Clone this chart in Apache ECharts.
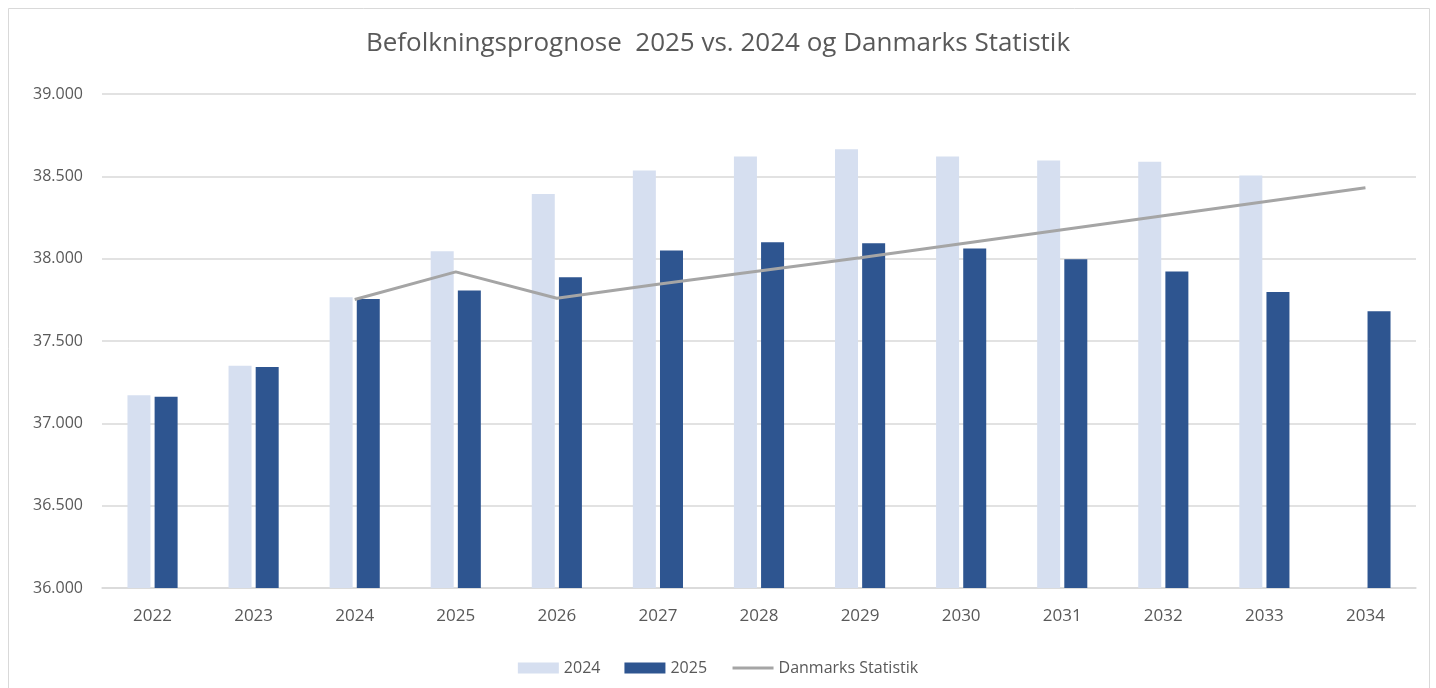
<!DOCTYPE html>
<html>
<head>
<meta charset="utf-8">
<title>Befolkningsprognose</title>
<script src="https://cdn.jsdelivr.net/npm/echarts@6/dist/echarts.min.js"></script>
<style>
    html, body { margin: 0; padding: 0; background: #fff; }
    #chart { width: 1436px; height: 688px; }
</style>
</head>
<body>
<div id="chart"></div>
<script>
var years = ['2022', '2023', '2024', '2025', '2026', '2027', '2028', '2029', '2030', '2031', '2032', '2033', '2034'];
var prognose2024 = [37170, 37350, 37765, 38045, 38392, 38535, 38620, 38665, 38620, 38596, 38588, 38505, null];
var prognose2025 = [37162, 37342, 37755, 37806, 37887, 38050, 38100, 38094, 38062, 37997, 37922, 37798, 37680];
var danmarksStatistik = [null, null, 37752, 37920, 37760, 37845, 37925, 38005, 38090, 38175, 38260, 38345, 38430];

var fontName = 'Open Sans';
var textColor = '#595959';

var chart = echarts.init(document.getElementById('chart'));

var formatThousands = function (v) {
    return String(v).replace(/\B(?=(\d{3})+(?!\d))/g, '.');
};

var option = {
    animation: false,
    backgroundColor: '#fff',
    textStyle: { fontFamily: fontName },
    title: {
        text: 'Befolkningsprognose  2025 vs. 2024 og Danmarks Statistik',
        left: 'center',
        top: 26,
        textStyle: { fontFamily: fontName, fontSize: 26, fontWeight: 'normal', color: textColor }
    },
    graphic: [{
        type: 'rect',
        shape: { x: 8.5, y: 8.5, width: 1421, height: 700 },
        style: { fill: 'none', stroke: '#d9d9d9', lineWidth: 1 },
        silent: true
    }],
    legend: {
        top: 655,
        left: 'center',
        itemWidth: 41,
        itemHeight: 11,
        itemGap: 24,
        textStyle: { fontFamily: fontName, fontSize: 16, color: textColor },
        data: [
            { name: '2024', icon: 'rect' },
            { name: '2025', icon: 'rect' },
            { name: 'Danmarks Statistik', itemStyle: { opacity: 0 }, lineStyle: { width: 3, color: '#a5a5a5' } }
        ]
    },
    grid: { left: 102, right: 20, top: 94, bottom: 100 },
    xAxis: {
        type: 'category',
        data: years,
        axisTick: { show: false },
        axisLine: { lineStyle: { color: '#d9d9d9', width: 1.5 } },
        axisLabel: { color: textColor, fontSize: 17, margin: 20 }
    },
    yAxis: {
        type: 'value',
        min: 36000,
        max: 39000,
        interval: 500,
        axisLine: { show: false },
        axisTick: { show: false },
        axisLabel: { color: textColor, fontSize: 16, margin: 19, formatter: formatThousands },
        splitLine: { lineStyle: { color: '#d9d9d9', width: 1.5 } }
    },
    series: [
        {
            name: '2024',
            type: 'bar',
            data: prognose2024,
            barWidth: 23,
            barGap: '18%',
            itemStyle: { color: '#d6dff0' }
        },
        {
            name: '2025',
            type: 'bar',
            data: prognose2025,
            barWidth: 23,
            itemStyle: { color: '#2e5590' }
        },
        {
            name: 'Danmarks Statistik',
            type: 'line',
            data: danmarksStatistik,
            symbol: 'none',
            lineStyle: { color: '#a5a5a5', width: 3 },
            itemStyle: { color: '#a5a5a5' }
        }
    ]
};

chart.setOption(option);
</script>
</body>
</html>
